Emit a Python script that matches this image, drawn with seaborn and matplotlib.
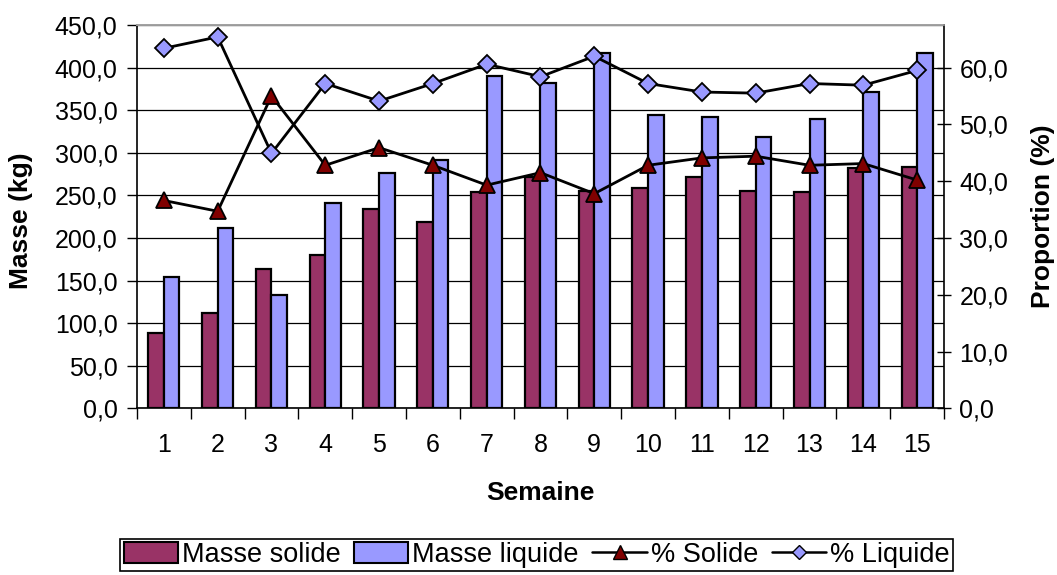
import matplotlib
matplotlib.use("Agg")
import numpy as np
import pandas as pd
import seaborn as sns
import matplotlib.pyplot as plt
from matplotlib.ticker import FuncFormatter, MultipleLocator, FixedLocator
from matplotlib.patches import Patch
from matplotlib.lines import Line2D

# Weekly data
semaines = [str(i) for i in range(1, 16)]
masse_solide = [88.0, 112.3, 163.5, 180.0, 234.4, 219.1, 253.6, 272.0,
                255.5, 258.3, 271.2, 255.5, 254.3, 282.5, 283.6]
masse_liquide = [153.8, 212.0, 132.6, 240.7, 275.9, 291.5, 390.1, 381.5,
                 417.5, 344.3, 341.6, 318.1, 340.0, 371.3, 416.8]
pct_solide = [36.6, 34.7, 55.0, 42.8, 45.9, 42.8, 39.3, 41.5,
              37.8, 42.8, 44.1, 44.4, 42.8, 43.1, 40.2]
pct_liquide = [63.4, 65.4, 44.9, 57.2, 54.1, 57.2, 60.6, 58.4,
               62.0, 57.2, 55.7, 55.5, 57.2, 56.9, 59.5]

c_solide = "#993366"
c_liquide = "#9999FF"
c_tri = "#800000"

sns.set_theme(style="white")
plt.rcParams["font.family"] = ["Liberation Sans", "DejaVu Sans"]
plt.rcParams["text.color"] = "black"
plt.rcParams["axes.labelcolor"] = "black"

fig = plt.figure(figsize=(10.57, 5.75), dpi=100)
ax = fig.add_axes([0.1296, 0.2899, 0.7635, 0.6666])

df = pd.DataFrame({
    "Semaine": semaines * 2,
    "Masse": masse_solide + masse_liquide,
    "Série": ["Masse solide"] * len(semaines) + ["Masse liquide"] * len(semaines),
})
sns.barplot(data=df, x="Semaine", y="Masse", hue="Série",
            hue_order=["Masse solide", "Masse liquide"],
            palette=[c_solide, c_liquide], saturation=1, width=0.58,
            edgecolor="black", linewidth=1.6, legend=False, ax=ax)

comma = FuncFormatter(lambda v, p: f"{v:.1f}".replace(".", ","))

ax.set_ylim(0, 450)
ax.yaxis.set_major_locator(MultipleLocator(50))
ax.yaxis.set_major_formatter(comma)
ax.grid(axis="y", color="black", linewidth=0.9)
ax.grid(axis="x", visible=False)
ax.set_axisbelow(True)

# Percentages on the secondary axis
ax2 = ax.twinx()
x_pos = np.arange(len(semaines))
sns.lineplot(x=x_pos, y=pct_solide, ax=ax2, color="black", linewidth=2.0,
             marker="^", markersize=12, markerfacecolor=c_tri,
             markeredgecolor="black", markeredgewidth=1.3)
sns.lineplot(x=x_pos, y=pct_liquide, ax=ax2, color="black", linewidth=2.0,
             marker="D", markersize=9, markerfacecolor=c_liquide,
             markeredgecolor="black", markeredgewidth=1.3)
ax2.set_ylim(0, 67.5)
ax2.yaxis.set_major_locator(FixedLocator([0, 10, 20, 30, 40, 50, 60]))
ax2.yaxis.set_major_formatter(comma)

ax.set_xlim(-0.5, len(semaines) - 0.5)
ax.set_xticks(x_pos)
ax.set_xticklabels(semaines)
ax.xaxis.set_minor_locator(FixedLocator(np.arange(-0.5, len(semaines), 1.0)))

fs = 18
ax.tick_params(axis="x", which="major", length=0, pad=18, labelsize=fs, colors="black")
ax.tick_params(axis="x", which="minor", bottom=True, length=8, width=1, color="black", direction="out")
ax.tick_params(axis="y", left=True, length=7, width=1, color="black", direction="out",
               pad=7, labelsize=fs, labelcolor="black")
ax2.tick_params(axis="y", right=True, length=10, width=1, color="black", direction="inout",
                pad=6, labelsize=fs, labelcolor="black")

for a in (ax, ax2):
    for s in a.spines.values():
        s.set_linewidth(1.2)
ax.spines["left"].set_color("black")
ax.spines["bottom"].set_color("black")
ax.spines["top"].set_color("#A0A0A0")
ax.spines["right"].set_visible(False)
ax2.spines["right"].set_color("black")
ax2.spines["top"].set_color("#A0A0A0")
ax2.spines["left"].set_visible(False)
ax2.spines["bottom"].set_visible(False)

tfs = 19
ax.set_xlabel("Semaine", fontsize=tfs, fontweight="bold")
ax.set_ylabel("Masse (kg)", fontsize=tfs, fontweight="bold", va="center")
ax2.set_ylabel("Proportion (%)", fontsize=tfs, fontweight="bold", va="center")
ax.xaxis.set_label_coords(0.5, -0.19)
ax.yaxis.set_label_coords(-0.1437, 0.49)
ax2.yaxis.set_label_coords(1.1227, 0.5)

handles = [
    Patch(facecolor=c_solide, edgecolor="black", linewidth=1.5),
    Patch(facecolor=c_liquide, edgecolor="black", linewidth=1.5),
    Line2D([0], [0], color="black", linewidth=1.8, marker="^", markersize=10,
           markerfacecolor=c_tri, markeredgecolor="black"),
    Line2D([0], [0], color="black", linewidth=1.8, marker="D", markersize=7,
           markerfacecolor=c_liquide, markeredgecolor="black"),
]
labels = ["Masse solide", "Masse liquide", "% Solide", "% Liquide"]
leg = fig.legend(handles, labels, loc="center", bbox_to_anchor=(0.5076, 0.0348),
                 ncol=4, fontsize=19.5, frameon=True, fancybox=False, edgecolor="black",
                 framealpha=1, handlelength=2.0, handleheight=0.8, handletextpad=0.15,
                 columnspacing=0.5, borderpad=0.12, borderaxespad=0)
leg.get_frame().set_linewidth(1.2)

fig.savefig("out.png", dpi=100)
